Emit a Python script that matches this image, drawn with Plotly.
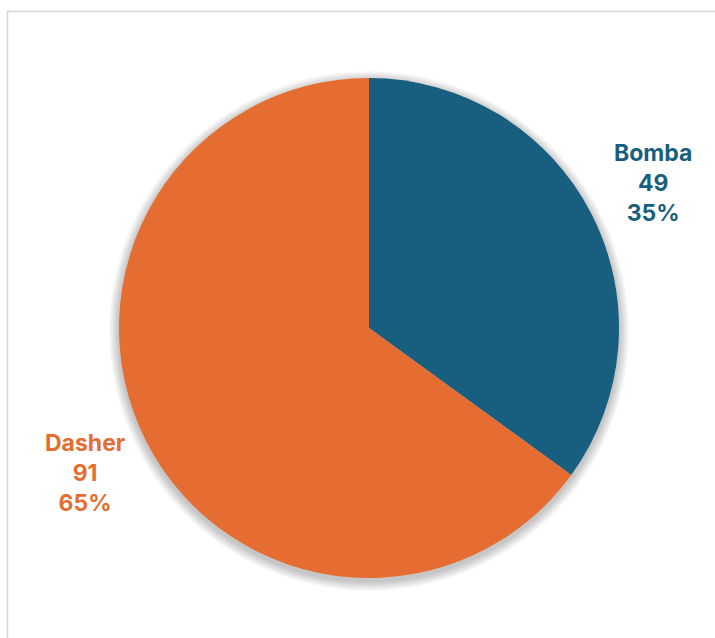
import math
import plotly.graph_objects as go

labels = ["Bomba", "Dasher"]
values = [49, 91]
colors = ["#175E7F", "#E56D32"]

W, H = 715, 638
cx, cy, R = 369, 328, 250  # pixel layout of the pie

fig = go.Figure(go.Pie(
    labels=labels, values=values, sort=False, direction="clockwise", rotation=0,
    marker=dict(colors=colors, line=dict(width=0)),
    textinfo="none", hoverinfo="label+value+percent", showlegend=False,
    domain=dict(x=[(cx - R) / W, (cx + R) / W], y=[(H - cy - R) / H, (H - cy + R) / H]),
))

# soft shadow under the pie
shapes = []
for grow in range(10, 0, -1):
    r = R + grow
    ox, oy = 0, 3
    shapes.append(dict(type="circle", xref="paper", yref="paper", layer="below",
                       x0=(cx + ox - r) / W, x1=(cx + ox + r) / W,
                       y0=(H - cy - oy - r) / H, y1=(H - cy - oy + r) / H,
                       fillcolor="rgba(0,0,0,0.022)", line=dict(width=0)))
# chart border
shapes.append(dict(type="rect", xref="paper", yref="paper", layer="below",
                   x0=7.5 / W, x1=1.02, y0=-0.02, y1=(H - 11.5) / H,
                   line=dict(color="#d6d6d6", width=1.5), fillcolor="rgba(0,0,0,0)"))

total = sum(values)
annotations = []
cum = 0
for lab, v, c in zip(labels, values, colors):
    mid = (cum + v / 2) / total * 2 * math.pi
    cum += v
    rr = 1.277 * R
    x = cx + rr * math.sin(mid)
    y = cy - rr * math.cos(mid)
    annotations.append(dict(
        x=x / W, y=(H - y) / H, xref="paper", yref="paper", showarrow=False,
        text=f"{lab}<br>{v}<br>{round(100 * v / total)}%",
        font=dict(family="Inter", size=23, color=c, weight="bold"),
        align="center", xanchor="center", yanchor="middle",
    ))

fig.update_layout(
    width=W, height=H, margin=dict(l=0, r=0, t=0, b=0),
    paper_bgcolor="white", plot_bgcolor="white",
    shapes=shapes, annotations=annotations,
)
fig.write_html("out.html")
